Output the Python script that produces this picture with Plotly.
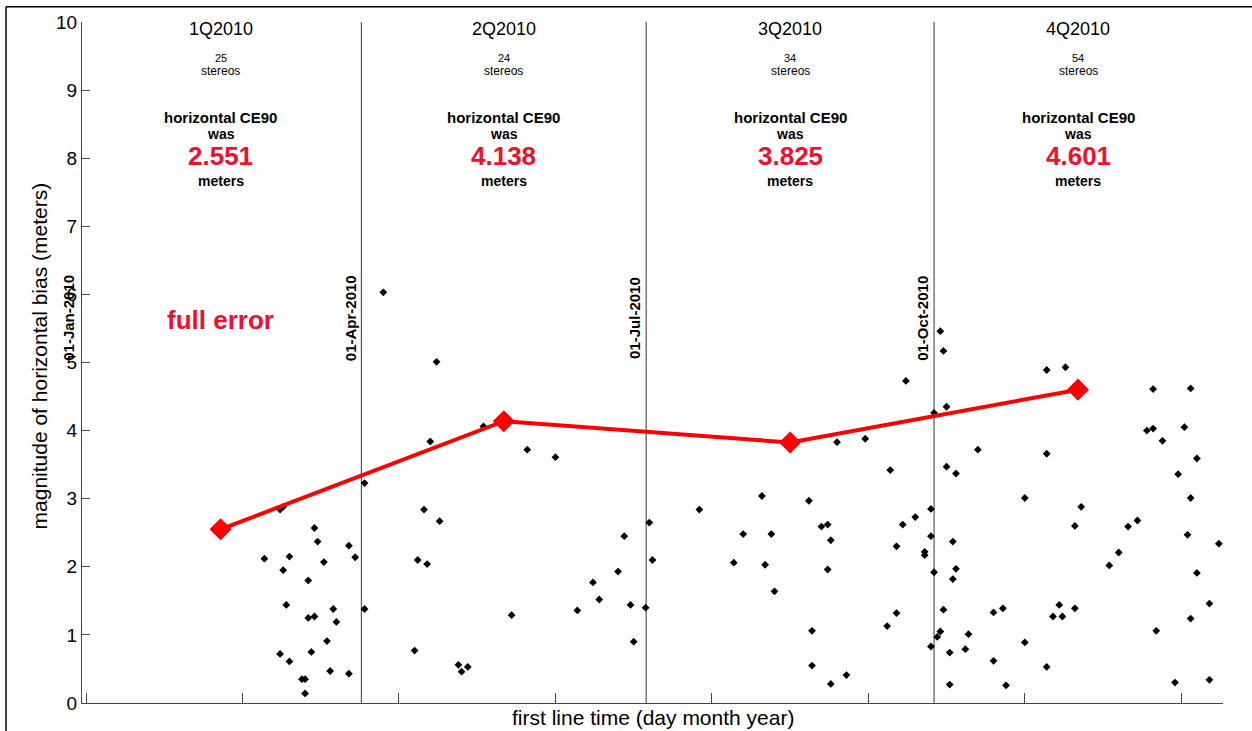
import plotly.graph_objects as go

# ---------------- data ----------------
point_dates = [
    # 1Q2010
    "2010-03-06", "2010-03-07", "2010-03-01", "2010-03-09", "2010-03-07", "2010-03-17",
    "2010-03-18", "2010-03-20", "2010-03-28", "2010-03-30", "2010-03-15", "2010-03-08",
    "2010-03-15", "2010-03-17", "2010-03-23", "2010-03-24", "2010-03-21", "2010-03-06",
    "2010-03-09", "2010-03-16", "2010-03-13", "2010-03-14", "2010-03-14", "2010-03-22",
    "2010-03-28",
    # 2Q2010
    "2010-04-02", "2010-04-02", "2010-04-08", "2010-04-25", "2010-04-23", "2010-05-10",
    "2010-05-24", "2010-06-02", "2010-04-21", "2010-04-26", "2010-04-19", "2010-04-22",
    "2010-05-19", "2010-06-09", "2010-06-14", "2010-06-16", "2010-06-22", "2010-06-24",
    "2010-06-26", "2010-06-27", "2010-04-18", "2010-05-02", "2010-05-03", "2010-05-05",
    "2010-06-30 20:00",
    # 3Q2010
    "2010-07-02", "2010-07-03", "2010-07-18", "2010-08-01", "2010-07-29", "2010-08-07",
    "2010-08-10", "2010-08-08", "2010-08-11", "2010-08-22", "2010-08-26", "2010-08-28",
    "2010-08-29", "2010-08-28", "2010-08-23", "2010-08-23", "2010-08-29", "2010-09-03",
    "2010-08-31", "2010-09-09", "2010-09-17", "2010-09-22", "2010-09-21", "2010-09-25",
    "2010-09-19", "2010-09-19", "2010-09-16", "2010-09-30", "2010-09-30", "2010-09-28",
    "2010-09-28", "2010-09-30", "2010-10-01",
    # 4Q2010
    "2010-10-03", "2010-10-04", "2010-10-05", "2010-10-15", "2010-10-05", "2010-10-08",
    "2010-11-06", "2010-11-12", "2010-11-06", "2010-10-30", "2010-11-17", "2010-11-15",
    "2010-10-01", "2010-10-07", "2010-10-08", "2010-10-07", "2010-10-04", "2010-10-03",
    "2010-10-02", "2010-10-06", "2010-10-06", "2010-10-12", "2010-10-11", "2010-10-20",
    "2010-10-23", "2010-10-20", "2010-10-24", "2010-10-30", "2010-11-06", "2010-11-08",
    "2010-11-10", "2010-11-11", "2010-11-15", "2010-11-26", "2010-11-29", "2010-12-02",
    "2010-12-05", "2010-12-08", "2010-12-10", "2010-12-10", "2010-12-13", "2010-12-11",
    "2010-12-17", "2010-12-18", "2010-12-20", "2010-12-22", "2010-12-24", "2010-12-22",
    "2010-12-21", "2010-12-24", "2010-12-22", "2010-12-28", "2010-12-28", "2010-12-31",
]
point_bias = [
    # 1Q2010
    2.84, 2.88, 2.12, 2.15, 1.95, 2.57,
    2.37, 2.07, 2.31, 2.14, 1.80, 1.44,
    1.25, 1.27, 1.38, 1.19, 0.91, 0.72,
    0.61, 0.75, 0.35, 0.35, 0.14, 0.47,
    0.43,
    # 2Q2010
    3.23, 1.38, 6.03, 5.01, 3.84, 4.06,
    3.72, 3.61, 2.84, 2.67, 2.10, 2.04,
    1.29, 1.36, 1.77, 1.52, 1.93, 2.45,
    1.44, 0.90, 0.77, 0.56, 0.46, 0.53,
    1.40,
    # 3Q2010
    2.65, 2.10, 2.84, 2.48, 2.06, 3.04,
    2.48, 2.03, 1.64, 2.97, 2.59, 2.62,
    2.39, 1.96, 1.06, 0.55, 0.28, 0.41,
    3.83, 3.88, 3.42, 4.73, 2.62, 2.73,
    2.30, 1.32, 1.13, 2.85, 2.45, 2.22,
    2.17, 0.83, 4.26,
    # 4Q2010
    5.46, 5.17, 4.35, 3.72, 3.47, 3.37,
    4.89, 4.93, 3.66, 3.01, 2.88, 2.60,
    1.92, 2.37, 1.97, 1.82, 1.37, 1.05,
    0.97, 0.74, 0.27, 1.01, 0.79, 1.33,
    1.39, 0.62, 0.26, 0.89, 0.53, 1.27,
    1.44, 1.27, 1.39, 2.02, 2.21, 2.59,
    2.68, 4.00, 4.03, 4.61, 3.85, 1.06,
    0.30, 3.36, 4.05, 4.62, 3.59, 3.01,
    2.47, 1.91, 1.24, 1.46, 0.34, 2.34,
]

quarter_labels = ["1Q2010", "2Q2010", "3Q2010", "4Q2010"]
quarter_mid_dates = ["2010-02-15", "2010-05-16 12:00", "2010-08-16", "2010-11-16"]
quarter_start_dates = ["2010-01-01", "2010-04-01", "2010-07-01", "2010-10-01"]
quarter_start_labels = ["01-Jan-2010", "01-Apr-2010", "01-Jul-2010", "01-Oct-2010"]
stereo_counts = [25, 24, 34, 54]
ce90_values = [2.551, 4.138, 3.825, 4.601]

x_range = ["2010-01-01 17:00", "2011-01-01 08:00"]
x_tick_dates = ["2010-01-03", "2010-02-22", "2010-04-13", "2010-06-02",
                "2010-07-22", "2010-09-10", "2010-10-30", "2010-12-19"]
y_tick_values = [0, 1, 2, 3, 4, 5, 6, 7, 8, 9, 10]

# ---------------- figure ----------------
FONT = "Liberation Sans, Arial, Helvetica, sans-serif"
RED = "#ff0000"
RED_TXT = "#f0102a"

fig = go.Figure()

fig.add_trace(go.Scatter(
    x=point_dates, y=point_bias, mode="markers",
    marker=dict(symbol="diamond", size=6, color="black"),
    showlegend=False, hoverinfo="x+y",
))

fig.add_trace(go.Scatter(
    x=quarter_mid_dates, y=ce90_values, mode="lines+markers",
    line=dict(color=RED, width=4),
    marker=dict(symbol="diamond", size=17, color=RED),
    showlegend=False,
))

shapes = []
for d in quarter_start_dates[1:]:
    shapes.append(dict(type="line", xref="x", yref="y", x0=d, x1=d, y0=0, y1=10,
                       line=dict(color="#555555", width=1.2), layer="below"))
# outer frame (top and left edges of the picture)
shapes.append(dict(type="line", xref="paper", yref="paper", x0=-0.0666, x1=1.03,
                   y0=1.0225, y1=1.0225, line=dict(color="black", width=1.5)))
shapes.append(dict(type="line", xref="paper", yref="paper", x0=-0.0666, x1=-0.0666,
                   y0=1.0225, y1=-0.05, line=dict(color="black", width=1.5)))

annotations = []
for lab, xm, n, v in zip(quarter_labels, quarter_mid_dates, stereo_counts, ce90_values):
    annotations += [
        dict(x=xm, y=9.9, text=lab, font=dict(family=FONT, size=18, color="black")),
        dict(x=xm, y=9.47, text=str(n), font=dict(family=FONT, size=11, color="black")),
        dict(x=xm, y=9.28, text="stereos", font=dict(family=FONT, size=12, color="black")),
        dict(x=xm, y=8.6, text="<b>horizontal CE90</b>", font=dict(family=FONT, size=15, color="black")),
        dict(x=xm, y=8.35, text="<b>was</b>", font=dict(family=FONT, size=14, color="black")),
        dict(x=xm, y=8.03, text="<b>%.3f</b>" % v, font=dict(family=FONT, size=26, color=RED_TXT)),
        dict(x=xm, y=7.67, text="<b>meters</b>", font=dict(family=FONT, size=14, color="black")),
    ]
for d, lab in zip(quarter_start_dates, quarter_start_labels):
    # a label whose date lies before the axis start is pinned to the axis start
    # and moved left by the same (small) distance
    xs = -1
    xpos = d
    if d < x_range[0]:
        xpos = x_range[0]
        xs = -3
    annotations.append(dict(x=xpos, y=5.65, text="<b>%s</b>" % lab, textangle=-90,
                            xanchor="right", yanchor="middle", xshift=xs,
                            font=dict(family=FONT, size=15, color="black")))
annotations.append(dict(x=quarter_mid_dates[0], y=5.62, text="<b>full error</b>",
                        font=dict(family=FONT, size=26, color=RED_TXT)))
# axis titles
annotations.append(dict(xref="paper", yref="paper", x=0.5, y=-0.0206, yanchor="middle",
                        text="first line time (day month year)",
                        font=dict(family=FONT, size=21, color="black")))
annotations.append(dict(xref="paper", yref="paper", x=-0.037, y=0.51, xanchor="center",
                        textangle=-90, text="magnitude of horizontal bias (meters)",
                        font=dict(family=FONT, size=21, color="black")))

for a in annotations:
    a.setdefault("showarrow", False)
    a.setdefault("xref", "x")
    a.setdefault("yref", "y")

fig.update_layout(
    width=1252, height=731,
    margin=dict(l=82, r=29, t=22, b=28),
    paper_bgcolor="white", plot_bgcolor="white",
    shapes=shapes, annotations=annotations,
    font=dict(family=FONT, color="black"),
    showlegend=False,
)
fig.update_xaxes(
    type="date", range=x_range,
    tickvals=x_tick_dates, ticktext=[""] * len(x_tick_dates),
    ticks="inside", ticklen=10, tickcolor="#444444", tickwidth=1,
    showline=True, linecolor="#444444", linewidth=1.2,
    showgrid=False, zeroline=False,
)
fig.update_yaxes(
    range=[0, 10], tickvals=y_tick_values,
    ticks="inside", ticklen=8, tickcolor="#444444", tickwidth=1,
    showline=True, linecolor="#444444", linewidth=1.2,
    showgrid=False, zeroline=False,
    tickfont=dict(family=FONT, size=19, color="black"),
)

fig.write_html("out.html", config={"displayModeBar": False},
               post_script="document.body.style.margin='0';document.body.style.overflow='hidden';")
